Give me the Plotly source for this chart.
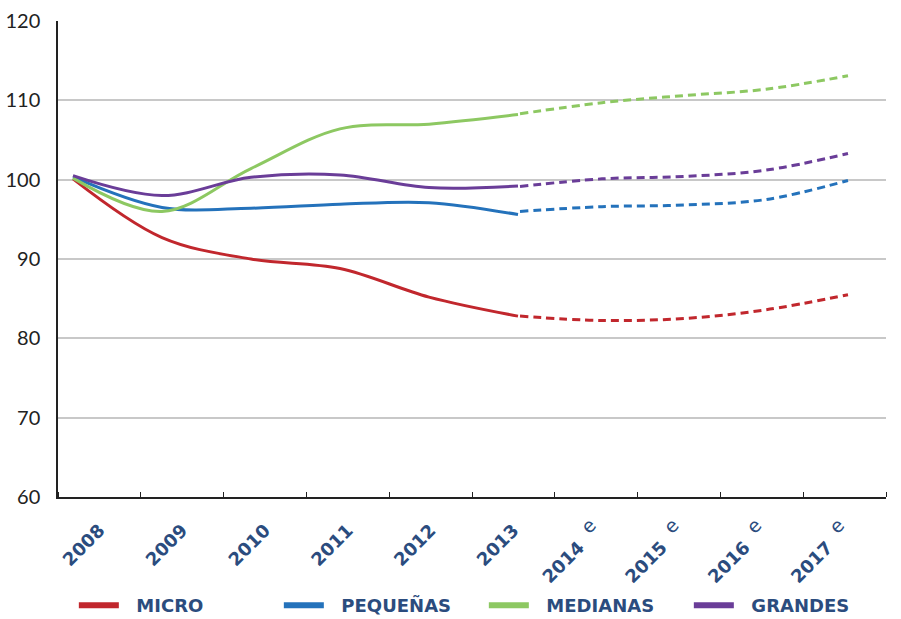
import plotly.graph_objects as go

# Index values by company size, 2008 = 100 (2014-2017 are estimates)
years_actual = [2008, 2009, 2010, 2011, 2012, 2013]
years_forecast = [2013, 2014, 2015, 2016, 2017]
categories = ["2008", "2009", "2010", "2011", "2012", "2013",
              "2014", "2015", "2016", "2017"]
estimated = [False] * 6 + [True] * 4

series_names = ["MICRO", "PEQUEÑAS", "MEDIANAS", "GRANDES"]
micro_actual = [100.1, 92.7, 90.0, 88.8, 85.2, 82.8]
micro_forecast = [82.8, 82.25, 82.5, 83.6, 85.5]
pequenas_actual = [100.35, 96.5, 96.4, 96.9, 97.1, 95.6]
pequenas_forecast = [96.0, 96.6, 96.8, 97.5, 99.9]
medianas_actual = [100.2, 96.0, 101.4, 106.4, 107.0, 108.2]
medianas_forecast = [108.3, 109.7, 110.6, 111.4, 113.1]
grandes_actual = [100.5, 98.0, 100.3, 100.6, 99.0, 99.2]
grandes_forecast = [99.15, 100.1, 100.4, 101.2, 103.3]

colors = ["#C1272D", "#2472BB", "#8DC862", "#6A3D98"]
navy = "#2B4C7E"

actual = [micro_actual, pequenas_actual, medianas_actual, grandes_actual]
forecast = [micro_forecast, pequenas_forecast, medianas_forecast, grandes_forecast]

fig = go.Figure()

# empty trace that keeps the category axis (labels and ticks) in use
fig.add_trace(go.Scatter(
    x=list(range(len(categories))), y=[None] * len(categories),
    mode="lines", showlegend=False, hoverinfo="skip"))

for name, color, ya, yf in zip(series_names, colors, actual, forecast):
    fig.add_trace(go.Scatter(
        x=years_actual, y=ya, xaxis="x2", mode="lines",
        line=dict(color=color, width=3, shape="spline"),
        showlegend=False, hoverinfo="skip"))
    fig.add_trace(go.Scatter(
        x=years_forecast, y=yf, xaxis="x3", mode="lines",
        line=dict(color=color, width=3, shape="spline", dash="8px,5px"),
        showlegend=False, hoverinfo="skip"))
    # legend swatch
    fig.add_trace(go.Scatter(
        x=[None], y=[None], mode="lines",
        line=dict(color=color, width=6), name="\u00a0\u00a0" + name,
        showlegend=True))

ticktext = [
    (f"{c}  <sup><span style='font-weight:normal;font-size:19px'>e</span></sup>"
     if e else c)
    for c, e in zip(categories, estimated)
]

fig.update_layout(
    width=901, height=619,
    margin=dict(l=58, r=15, t=21, b=122, autoexpand=False),
    paper_bgcolor="white", plot_bgcolor="white",
    xaxis=dict(
        range=[-0.5, len(categories) - 0.5],
        tickvals=list(range(len(categories))), ticktext=ticktext,
        tickangle=-45, ticks="", showgrid=False, zeroline=False,
        showline=True, linecolor="#222", linewidth=1.5, ticklabelstandoff=14,
        tickfont=dict(family="DejaVu Sans", size=18, color=navy, weight="bold"),
        minor=dict(tick0=0.5, dtick=1, ticks="inside", ticklen=5,
                   tickcolor="#222", tickwidth=1, showgrid=False),
    ),
    xaxis2=dict(overlaying="x", range=[2007.8315, 2017.1348], visible=False),
    xaxis3=dict(overlaying="x", range=[2007.3659, 2017.4634], visible=False),
    yaxis=dict(
        range=[60, 120], dtick=10, showgrid=True, gridcolor="#C8C8C8",
        gridwidth=1.5, zeroline=False, showline=True, linecolor="#222",
        linewidth=1.5, ticks="", ticklabelstandoff=12,
        tickfont=dict(family="Lato", size=20, color="#222"),
    ),
    legend=dict(
        orientation="h", xref="container", x=0.537, xanchor="center",
        y=-0.228, yanchor="middle", yref="paper",
        entrywidth=150, entrywidthmode="pixels", bgcolor="rgba(0,0,0,0)",
        font=dict(family="DejaVu Sans", size=18, color=navy, weight="bold"),
        itemwidth=40, tracegroupgap=0,
    ),
)

fig.write_html("out.html")
